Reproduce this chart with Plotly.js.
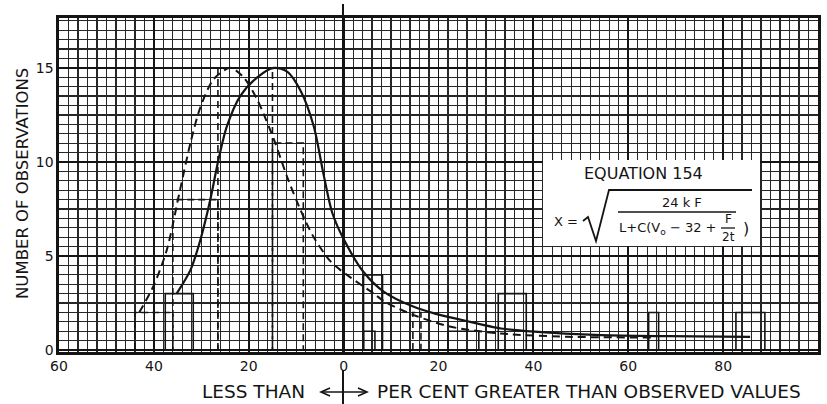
<!DOCTYPE html>
<html>
<head>
<meta charset="utf-8">
<script src="https://cdn.plot.ly/plotly-3.0.1.min.js"></script>
<style>html,body{margin:0;padding:0;background:#fff;}#chart{width:827px;height:404px;}</style>
</head>
<body>
<div id="chart"></div>
<script>
// ---- data ----
// x tick labels (per cent, left of 0 = less than)
const xTickVals = [-60, -40, -20, 0, 20, 40, 60, 80, 100];
const xTickText = ['60', '40', '20', '0', '20', '40', '60', '80', '100'];
const yTickVals = [0, 5, 10, 15];
const yTickText = ['0', '5', '10', '15'];

// solid curve (Equation 154)
const solidX = [-35.2, -32.3, -30.2, -28.1, -26.4, -24.6, -21.8, -18.2, -14.7, -11.9, -9.1, -6.3, -4.2, -2.4, 0.0, 4.2, 8.5, 14.8, 19.1, 25.0, 33.2, 40.2, 54.3, 68.4, 85.7];
const solidY = [3.0, 4.25, 5.85, 8.0, 10.1, 11.9, 13.5, 14.5, 15.0, 14.8, 13.8, 11.9, 9.3, 7.3, 5.9, 4.15, 3.1, 2.3, 1.95, 1.6, 1.15, 0.98, 0.8, 0.74, 0.7];

// dashed curve
const dashX = [-43.1, -40.1, -37.3, -34.5, -32.3, -30.2, -27.4, -23.9, -21.1, -18.2, -14.7, -11.9, -9.1, -6.3, -2.7, 1.5, 6.4, 8.5, 14.8, 22.6, 33.2, 47.3, 65.0];
const dashY = [2.0, 3.4, 5.3, 8.5, 11.0, 12.9, 14.4, 15.0, 14.5, 13.3, 11.2, 9.2, 7.45, 6.0, 4.7, 3.85, 3.0, 2.6, 1.86, 1.24, 0.88, 0.71, 0.67];

// dashed histogram bars
const dashBarLeft  = [-44, -36, -26.5, -15, 14.6];
const dashBarRight = [-36, -26.5, -15, -8.5, 16.3];
const dashBarH     = [2, 8, 15, 11, 2];

// solid histogram bars
const solidBarLeft  = [-37.6, 4.2, 4.2, 22, 32.6, 64.3, 82.7];
const solidBarRight = [-31.7, 8.2, 6.6, 28.5, 38.5, 66.4, 88.8];
const solidBarH     = [3, 4, 1, 1, 3, 2, 2];

// ---- build outlines of histogram bars from the arrays ----
function outline(lefts, rights, hs) {
  const xs = [], ys = [];
  for (let i = 0; i < hs.length; i++) {
    xs.push(lefts[i], lefts[i], rights[i], rights[i], null);
    ys.push(0, hs[i], hs[i], 0, null);
  }
  return {xs, ys};
}
const dB = outline(dashBarLeft, dashBarRight, dashBarH);
const sB = outline(solidBarLeft, solidBarRight, solidBarH);

const ink = '#141414';
const traces = [
  {x: dB.xs, y: dB.ys, mode: 'lines', line: {color: ink, width: 1.6, dash: '7px,4px'}, hoverinfo: 'skip', connectgaps: false},
  {x: sB.xs, y: sB.ys, mode: 'lines', line: {color: ink, width: 1.6}, hoverinfo: 'skip', connectgaps: false},
  {x: dashX, y: dashY, mode: 'lines', line: {color: ink, width: 2, shape: 'spline', smoothing: 0.8, dash: '8px,5px'}},
  {x: solidX, y: solidY, mode: 'lines', line: {color: ink, width: 2.2, shape: 'spline', smoothing: 0.8}}
];

// pixel -> paper helpers for decorations
const PL = 59, PR = 818, PT = 18, PB = 352;
const px = v => (v - PL) / (PR - PL);
const py = v => (PB - v) / (PB - PT);

const font = 'DejaVu Sans, Arial, sans-serif';
function ann(text, x, y, size, extra) {
  return Object.assign({text: text, xref: 'paper', yref: 'paper', x: px(x), y: py(y),
    showarrow: false, xanchor: 'center', yanchor: 'middle',
    font: {family: font, size: size, color: ink}}, extra || {});
}
function line(x0, y0, x1, y1, w) {
  return {type: 'line', xref: 'paper', yref: 'paper', x0: px(x0), y0: py(y0), x1: px(x1), y1: py(y1),
    line: {color: ink, width: w || 1.6}, layer: 'above'};
}
function path(pts, w) {
  let d = '';
  pts.forEach((p, i) => { d += (i ? ' L ' : 'M ') + px(p[0]) + ',' + py(p[1]); });
  return {type: 'path', xref: 'paper', yref: 'paper', path: d, line: {color: ink, width: w || 1.6}, layer: 'above'};
}

const shapes = [
  {type: 'rect', xref: 'paper', yref: 'paper', x0: px(543), x1: px(760), y0: py(246), y1: py(160),
    fillcolor: '#ffffff', line: {width: 0}, layer: 'above'},
  path([[583, 221], [588, 217], [596, 241], [609, 190], [752, 190]], 1.8),
  line(618, 212, 736, 212, 1.5),
  line(721, 228, 735, 228, 1.3),
  line(343, 4, 343, 22, 2),
  line(343, 370, 343, 404, 2),
  line(322, 392, 366, 392, 1.6),
  path([[330, 388], [321, 392], [330, 396]], 1.6),
  path([[358, 388], [367, 392], [358, 396]], 1.6)
];

const annotations = [
  ann('NUMBER OF OBSERVATIONS', 22, 184, 16.5, {textangle: -90}),
  ann('LESS THAN', 253, 391, 18.5),
  ann('PER CENT GREATER THAN OBSERVED VALUES', 589, 391, 18.5),
  ann('EQUATION 154', 643, 173, 16),
  ann('X =', 566, 221, 13),
  ann('24 k F', 682, 202, 13),
  ann('L+C(V<sub>o</sub> − 32 +', 668, 229, 13),
  ann('F', 728, 219, 12),
  ann('2t', 728, 237, 12),
  ann(')', 746, 228, 16)
];

const layout = {
  width: 827, height: 404,
  margin: {l: PL, r: 827 - PR, t: PT, b: 404 - PB},
  paper_bgcolor: '#ffffff', plot_bgcolor: '#ffffff',
  showlegend: false,
  font: {family: font, color: ink},
  xaxis: {
    range: [-60, 100], tickmode: 'array', tickvals: xTickVals, ticktext: xTickText,
    tickfont: {family: font, size: 14, color: ink}, ticks: '', ticklabelstandoff: 0,
    showgrid: true, gridcolor: ink, gridwidth: 1.9,
    zeroline: true, zerolinecolor: ink, zerolinewidth: 2.6,
    showline: true, linecolor: ink, linewidth: 2.6, mirror: true,
    minor: {tickmode: 'linear', tick0: 0, dtick: 2, showgrid: true, gridcolor: '#262626', gridwidth: 1.2, ticks: ''}
  },
  yaxis: {
    range: [-0.1, 17.65], tickmode: 'array', tickvals: yTickVals, ticktext: yTickText,
    tickfont: {family: font, size: 14, color: ink}, ticks: '',
    showgrid: true, gridcolor: ink, gridwidth: 1.9,
    zeroline: false,
    showline: true, linecolor: ink, linewidth: 2.6, mirror: true,
    minor: {tickmode: 'linear', tick0: 0, dtick: 0.5, showgrid: true, gridcolor: '#262626', gridwidth: 1.2, ticks: ''}
  },
  shapes: shapes,
  annotations: annotations
};

Plotly.newPlot('chart', traces, layout, {staticPlot: true, displayModeBar: false});
</script>
</body>
</html>
